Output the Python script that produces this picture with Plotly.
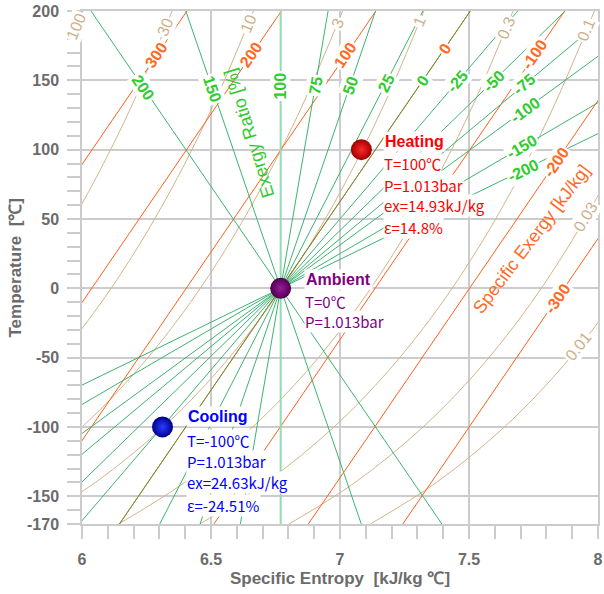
import math
import numpy as np
import plotly.graph_objects as go

# ---------------- data ----------------
s_range = [6, 8]
T_range = [-170, 200]
x_ticks = [6, 6.5, 7, 7.5, 8]
x_tick_text = ["6", "6.5", "7", "7.5", "8"]
y_ticks = [200, 150, 100, 50, 0, -50, -100, -150, -170]
y_tick_text = ["200", "150", "100", "50", "0", "-50", "-100", "-150", "-170"]

# straight lines: entropy at T=-170 and T=200
line_T = [-170, 200]

# exergy-ratio lines [%] (green), all through the ambient state
ratio_labels = ["200", "150", "100", "75", "50", "25", "0", "-25", "-50", "-75", "-100", "-150", "-200"]
ratio_s_lo = [7.3949, 7.0824, 6.77, 6.6138, 6.4576, 6.3014, 6.1451, 5.9889, 5.8327, 5.6765, 5.5203, 5.2079, 4.8954]
ratio_s_hi = [6.0349, 6.4024, 6.77, 6.9538, 7.1376, 7.3213, 7.5051, 7.6889, 7.8727, 8.0565, 8.2402, 8.6078, 8.9754]
ratio_label_T = [145, 143.6, 146, 146.6, 146.6, 148, 150, 149, 149.5, 146.7, 128.6, 102, 85.3]

# specific-exergy lines [kJ/kg] (orange)
exergy_labels = ["300", "200", "100", "0", "-100", "-200", "-300"]
exergy_s_lo = [5.0468, 5.4129, 5.7790, 6.1451, 6.5112, 6.8773, 7.2434]
exergy_s_hi = [6.4068, 6.7729, 7.1390, 7.5051, 7.8712, 8.2373, 8.6034]
exergy_label_T = [168.3, 168.3, 168.3, 173.2, 168.3, 91, -7]

# isobars [bar] (tan): entropy at the temperatures below
isobar_T = [-170, -140, -100, -60, -20, 20, 60, 100, 140, 200]
isobar_labels = ["100", "30", "10", "3", "1", "0.3", "0.1", "0.03", "0.01"]
isobar_s_100 = [4.4743, 4.7306, 4.9943, 5.2030, 5.3757, 5.5230, 5.6514, 5.7652, 5.8675, 6.0036]
isobar_s_30 = [4.8198, 5.0761, 5.3399, 5.5486, 5.7212, 5.8685, 5.9969, 6.1108, 6.2130, 6.3492]
isobar_s_10 = [5.1351, 5.3914, 5.6552, 5.8638, 6.0365, 6.1838, 6.3122, 6.4261, 6.5283, 6.6645]
isobar_s_3 = [5.4807, 5.7370, 6.0007, 6.2094, 6.3821, 6.5294, 6.6578, 6.7716, 6.8738, 7.0100]
isobar_s_1 = [5.7960, 6.0523, 6.3160, 6.5247, 6.6974, 6.8447, 6.9731, 7.0869, 7.1892, 7.3253]
isobar_s_03 = [6.1415, 6.3978, 6.6616, 6.8702, 7.0429, 7.1902, 7.3186, 7.4325, 7.5347, 7.6708]
isobar_s_01 = [6.4568, 6.7131, 6.9769, 7.1855, 7.3582, 7.5055, 7.6339, 7.7478, 7.8500, 7.9861]
isobar_s_003 = [6.8024, 7.0587, 7.3224, 7.5311, 7.7038, 7.8510, 7.9795, 8.0933, 8.1955, 8.3317]
isobar_s_001 = [7.1177, 7.3740, 7.6377, 7.8464, 8.0191, 8.1663, 8.2948, 8.4086, 8.5108, 8.6470]
isobar_label_T = [188.7, 188.7, 191.2, 191.2, 192.4, 187.6, 186.4, 51.7, -42.1]

# states
state_names = ["Heating", "Ambient", "Cooling"]
state_s = [7.083, 6.77, 6.312]
state_T = [100, 0, -100]
heating_info = ["T=100℃", "P=1.013bar", "ex=14.93kJ/kg", "ε=14.8%"]
ambient_info = ["T=0℃", "P=1.013bar"]
cooling_info = ["T=-100℃", "P=1.013bar", "ex=24.63kJ/kg", "ε=-24.51%"]

# ---------------- styling ----------------
W, H = 604, 594
ML, MR, MT, MB = 82, 6, 11, 70
PX_S = (W - ML - MR) / (s_range[1] - s_range[0])
PX_T = (H - MT - MB) / (T_range[1] - T_range[0])

GREEN = "#3cb371"
GREEN_TXT = "#2ecc2e"
ORANGE = "#ff5f1a"
ORANGE_TXT = "#ff6a1f"
TAN = "#d2b48c"
TAN_TXT = "#cdb08a"
GRID = "#cccccc"
AXTXT = "#6b6b6b"
NARROW = "Noto Sans CJK JP, Liberation Sans, sans-serif"
SANS = "Liberation Sans, Arial, sans-serif"

isobar_s = [isobar_s_100, isobar_s_30, isobar_s_10, isobar_s_3, isobar_s_1,
            isobar_s_03, isobar_s_01, isobar_s_003, isobar_s_001]


def angle_of(ds, dT):
    vx = ds * PX_S
    vy = -dT * PX_T
    if vx < 0 or (abs(vx) < 1e-9 and vy > 0):
        vx, vy = -vx, -vy
    return math.degrees(math.atan2(vy, vx))


fig = go.Figure()

# isobars
for s_list in isobar_s:
    fig.add_trace(go.Scatter(x=s_list, y=isobar_T, mode="lines",
                             line=dict(color=TAN, width=1, shape="spline"),
                             hoverinfo="skip", showlegend=False))
# exergy lines
for lo, hi in zip(exergy_s_lo, exergy_s_hi):
    fig.add_trace(go.Scatter(x=[lo, hi], y=line_T, mode="lines",
                             line=dict(color=ORANGE, width=1),
                             hoverinfo="skip", showlegend=False))
# exergy-ratio lines
for lab, lo, hi in zip(ratio_labels, ratio_s_lo, ratio_s_hi):
    col, wd = GREEN, 1
    if lab == "100":
        col, wd = "#92dcb0", 2
    if lab == "0":
        col = "#5f9a3c"
    fig.add_trace(go.Scatter(x=[lo, hi], y=line_T, mode="lines",
                             line=dict(color=col, width=wd),
                             hoverinfo="skip", showlegend=False))

# state markers
marker_edge = ["#a00000", "#4d0050", "#00008c"]
marker_center = ["#ff2a2a", "#9a1a9a", "#2a3cff"]
for i in range(3):
    fig.add_trace(go.Scatter(x=[state_s[i]], y=[state_T[i]], mode="markers",
                             marker=dict(size=21, color=marker_edge[i],
                                         gradient=dict(type="radial", color=marker_center[i]),
                                         line=dict(width=0)),
                             hoverinfo="skip", showlegend=False))

ann = []


def label(x, y, text, ang, color, size, bold=False, family=SANS):
    xref, yref = "x", "y"
    if x < s_range[0] or x > s_range[1]:
        x = (x - s_range[0]) / (s_range[1] - s_range[0])
        y = (y - T_range[0]) / (T_range[1] - T_range[0])
        xref, yref = "paper", "paper"
    ann.append(dict(x=x, y=y, xref=xref, yref=yref, text=text, showarrow=False,
                    xanchor="center", yanchor="middle",
                    textangle=ang, bgcolor="white", borderpad=1,
                    font=dict(color=color, size=size, family=family,
                              weight="bold" if bold else "normal")))


for lab, lo, hi, t in zip(ratio_labels, ratio_s_lo, ratio_s_hi, ratio_label_T):
    s = float(np.interp(t, line_T, [lo, hi]))
    label(s, t, lab, angle_of(hi - lo, line_T[1] - line_T[0]), GREEN_TXT, 16, True)

for lab, lo, hi, t in zip(exergy_labels, exergy_s_lo, exergy_s_hi, exergy_label_T):
    s = float(np.interp(t, line_T, [lo, hi]))
    label(s, t, lab, angle_of(hi - lo, line_T[1] - line_T[0]), ORANGE_TXT, 16, True)

for lab, s_list, t in zip(isobar_labels, isobar_s, isobar_label_T):
    s = float(np.interp(t, isobar_T, s_list))
    ds = float(np.interp(t + 5, isobar_T, s_list) - np.interp(t - 5, isobar_T, s_list))
    label(s, t, lab, angle_of(ds, 10), TAN_TXT, 16, False)

# family titles
ann.append(dict(x=6.65, y=111.7, xref="x", yref="y", text="Exergy Ratio [%]", showarrow=False,
                textangle=-107, font=dict(color=GREEN_TXT, size=18, family=SANS)))
ann.append(dict(x=7.743, y=35.5, xref="x", yref="y", text="Specific Exergy [kJ/kg]", showarrow=False,
                textangle=-53, font=dict(color=ORANGE_TXT, size=18, family=SANS)))


def info_block(x, ys, title, rows, color):
    ann.append(dict(x=x, y=ys[0], xref="x", yref="y", text=title, showarrow=False,
                    xanchor="left", bgcolor="white", borderpad=1,
                    font=dict(color=color, size=16, family=SANS, weight="bold")))
    for r, yy in zip(rows, ys[1:]):
        ann.append(dict(x=x, y=yy, xref="x", yref="y", text=r, showarrow=False,
                        xanchor="left", bgcolor="white", borderpad=0,
                        font=dict(color=color, size=15, family=NARROW)))


info_block(7.165, [105.8, 90.2, 74.5, 59.4, 44.0], state_names[0], heating_info, "#ff0000")
info_block(6.860, [6.5, -9.7, -23.6], state_names[1], ambient_info, "#800080")
info_block(6.404, [-92.6, -109.5, -125.1, -140.0, -156.3], state_names[2], cooling_info, "#0000ff")

# y-axis title (placed as a paper annotation to match the reference position)
ann.append(dict(x=-(ML - 15) / (W - ML - MR), y=0.5, xref="paper", yref="paper",
                xanchor="center", yanchor="middle",
                text="Temperature\u00a0\u00a0[℃]", showarrow=False, textangle=-90,
                font=dict(family=SANS, size=17, color=AXTXT, weight="bold")))

axis_common = dict(ticks="outside", ticklen=13, tickcolor=GRID, tickwidth=1.5,
                   showgrid=True, gridcolor=GRID, gridwidth=1.5,
                   showline=True, mirror=True, linecolor=GRID, linewidth=1.5,
                   zeroline=False, automargin=False, ticklabeloverflow="allow",
                   tickfont=dict(family=SANS, size=16, color=AXTXT, weight="bold"))

fig.update_layout(
    width=W, height=H,
    margin=dict(l=ML, r=MR, t=MT, b=MB, autoexpand=False),
    paper_bgcolor="white", plot_bgcolor="white",
    showlegend=False,
    annotations=ann,
    xaxis=dict(range=s_range, tickmode="array", tickvals=x_ticks, ticktext=x_tick_text,
               ticklabelstandoff=7,
               minor=dict(tick0=6, dtick=0.1, ticks="outside", ticklen=13, tickcolor=GRID,
                          tickwidth=1.5, showgrid=False),
               title=dict(text="Specific Entropy\u00a0\u00a0[kJ/kg ℃]", standoff=5,
                          font=dict(family=SANS, size=17, color=AXTXT, weight="bold")),
               **axis_common),
    yaxis=dict(range=T_range, tickmode="array", tickvals=y_ticks, ticktext=y_tick_text,
               ticklabelstandoff=5,
               minor=dict(tick0=0, dtick=10, ticks="outside", ticklen=13, tickcolor=GRID,
                          tickwidth=1.5, showgrid=False),
               **axis_common),
)

fig.write_html("out.html")
